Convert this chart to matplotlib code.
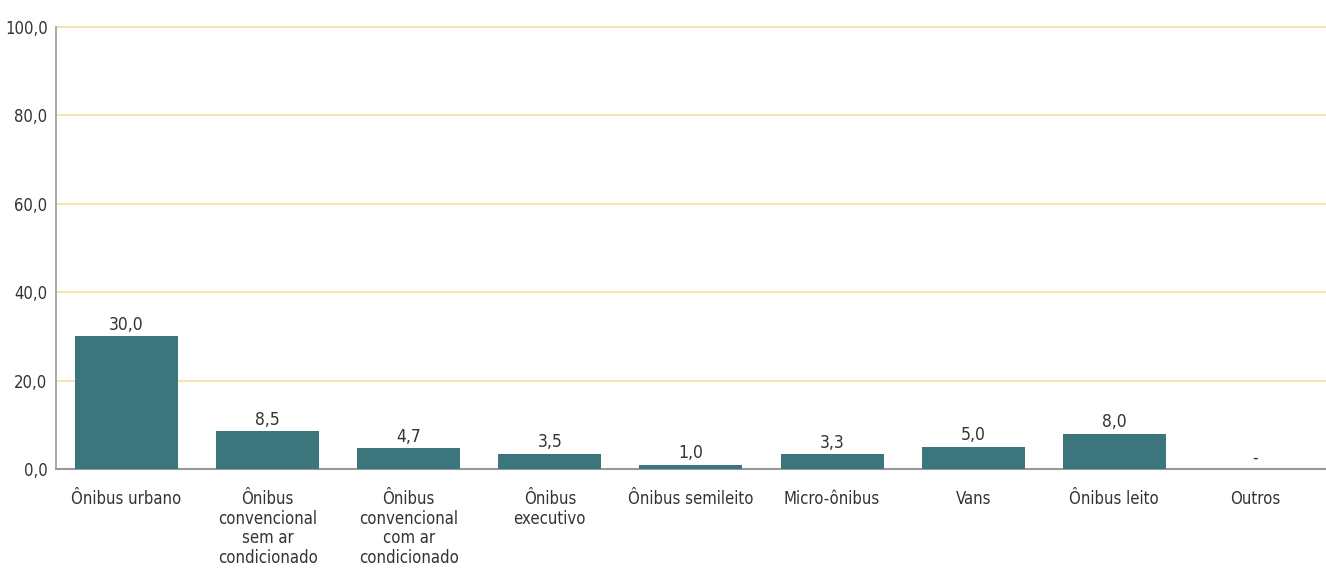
import numpy as np
import matplotlib.pyplot as plt

categorias = ['Ônibus urbano', 'Ônibus\nconvencional\nsem ar\ncondicionado',
              'Ônibus\nconvencional\ncom ar\ncondicionado', 'Ônibus\nexecutivo',
              'Ônibus semileito', 'Micro-ônibus', 'Vans', 'Ônibus leito', 'Outros']
valores = [30.0, 8.5, 4.7, 3.5, 1.0, 3.3, 5.0, 8.0, 0.0]
rotulos = ['30,0', '8,5', '4,7', '3,5', '1,0', '3,3', '5,0', '8,0', '-']
yticks = [0, 20, 40, 60, 80, 100]

plt.rcParams['font.family'] = ['DejaVu Sans']
plt.rcParams['font.stretch'] = 'condensed'

fig = plt.figure(figsize=(13.26, 5.68), dpi=100)
ax = fig.add_axes([0.0422, 0.1743, 0.9578, 0.7822])

x = np.arange(len(categorias))
ax.bar(x, valores, width=0.73, color='#3b767c', zorder=3)
for xi, v, r in zip(x, valores, rotulos):
    ax.text(xi, v + 0.6, r, ha='center', va='bottom', fontsize=12.5, color='#333333')

ax.set_xlim(-0.5, len(categorias) - 0.5)
ax.set_ylim(0, 100.5)
ax.set_yticks(yticks)
ax.set_yticklabels([f'{t:.1f}'.replace('.', ',') for t in yticks], fontsize=12, color='#333333')
ax.set_xticks(x)
ax.set_xticklabels(categorias, fontsize=12, color='#333333', linespacing=1.12)
ax.tick_params(axis='both', length=0)
ax.tick_params(axis='x', pad=15)
ax.tick_params(axis='y', pad=6)

ax.yaxis.grid(True, color='#f6dfa4', linewidth=1.2, zorder=0)
for s in ['top', 'right']:
    ax.spines[s].set_visible(False)
ax.spines['left'].set_color('#999999')
ax.spines['bottom'].set_color('#999999')
ax.spines['left'].set_linewidth(1.2)
ax.spines['bottom'].set_linewidth(1.5)
ax.spines['left'].set_bounds(0, 100)

fig.savefig('out.png', dpi=100)
